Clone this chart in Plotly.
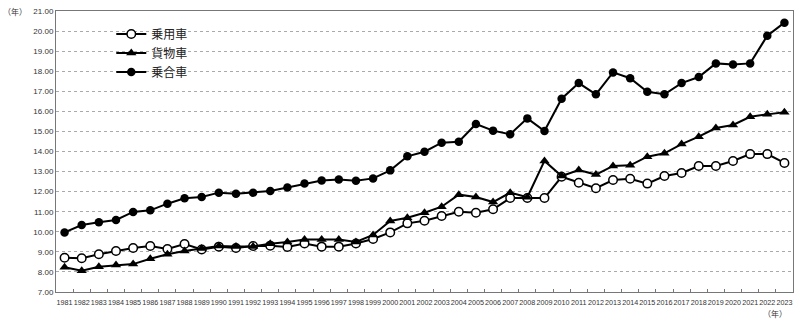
import plotly.graph_objects as go

years = [str(y) for y in range(1981, 2024)]

passenger = [8.71, 8.68, 8.88, 9.04, 9.19, 9.29, 9.14, 9.39, 9.12, 9.26, 9.19, 9.29, 9.31, 9.24, 9.42,
             9.26, 9.26, 9.42, 9.64, 9.97, 10.42, 10.55, 10.79, 11.00, 10.95, 11.12, 11.68, 11.68,
             11.68, 12.74, 12.44, 12.17, 12.58, 12.64, 12.40, 12.78, 12.93, 13.28, 13.28, 13.53,
             13.87, 13.87, 13.43]
truck = [8.23, 8.06, 8.26, 8.34, 8.39, 8.66, 8.88, 9.04, 9.17, 9.29, 9.27, 9.27, 9.40, 9.49, 9.62,
         9.62, 9.62, 9.49, 9.84, 10.54, 10.70, 10.95, 11.25, 11.85, 11.73, 11.48, 11.95, 11.72,
         13.53, 12.78, 13.08, 12.85, 13.28, 13.31, 13.74, 13.91, 14.37, 14.74, 15.17, 15.32,
         15.73, 15.85, 15.95]
bus = [9.97, 10.34, 10.47, 10.59, 10.99, 11.07, 11.40, 11.67, 11.73, 11.95, 11.90, 11.95, 12.03,
       12.21, 12.40, 12.56, 12.61, 12.54, 12.66, 13.06, 13.76, 13.99, 14.44, 14.49, 15.37, 15.04,
       14.86, 15.65, 15.02, 16.63, 17.41, 16.85, 17.94, 17.65, 16.98, 16.85, 17.41, 17.71, 18.39,
       18.33, 18.39, 19.77, 20.42]

series_names = ["乗用車", "貨物車", "乗合車"]
y_ticks = [7 + i for i in range(15)]

fig = go.Figure()
markers = [
    dict(symbol="circle", size=8.5, color="white", line=dict(width=1.5, color="black")),
    dict(symbol="triangle-up", size=9, color="black"),
    dict(symbol="circle", size=8.5, color="black"),
]
for name, vals, mk in zip(series_names, [passenger, truck, bus], markers):
    fig.add_trace(go.Scatter(x=years, y=vals, name=name, mode="lines+markers",
                             line=dict(color="black", width=2), marker=mk))

fig.update_layout(
    width=800, height=326,
    margin=dict(l=56, r=7, t=11, b=34),
    paper_bgcolor="white", plot_bgcolor="white",
    font=dict(family="Noto Sans CJK JP", color="#333"),
    showlegend=True,
    legend=dict(x=0.075, y=0.97, xanchor="left", yanchor="top",
                bgcolor="rgba(0,0,0,0)", font=dict(size=12, color="#222"),
                tracegroupgap=0, itemwidth=30),
    xaxis=dict(type="category", showline=True, linecolor="#777", linewidth=1, mirror=True,
               showgrid=False, ticks="inside", ticklen=3, tickcolor="#777", tickson="boundaries",
               tickangle=0, ticklabelstandoff=3,
               tickfont=dict(family="Liberation Sans", size=7.2, color="#333"),
               range=[-0.5, len(years) - 0.5]),
    yaxis=dict(range=[7, 21], tickvals=y_ticks, tickformat=".2f", showline=True, linecolor="#777",
               linewidth=1, mirror=True, showgrid=True, gridcolor="#aaa", griddash="dot",
               gridwidth=1, ticks="", tickfont=dict(family="Liberation Sans", size=8, color="#333"),
               zeroline=False),
)
fig.add_annotation(text="（年）", xref="paper", yref="paper", x=-0.075, y=1.0, xanchor="left",
                   yanchor="middle", showarrow=False, font=dict(size=8, color="#333"))
fig.add_annotation(text="（年）", xref="paper", yref="paper", x=0.995, y=-0.075, xanchor="right",
                   yanchor="middle", showarrow=False, font=dict(size=8, color="#333"))

fig.write_html("out.html")
